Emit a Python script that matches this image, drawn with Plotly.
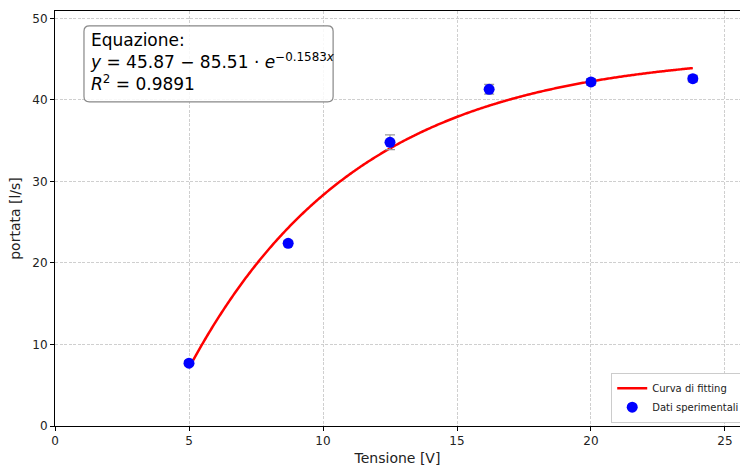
import numpy as np
import plotly.graph_objects as go

tensione = [5.0, 8.7, 12.5, 16.2, 20.0, 23.8]
portata = [7.7, 22.4, 34.8, 41.3, 42.2, 42.6]
errori = [0.3, 0.3, 0.9, 0.6, 0.4, 0.4]
a, b, c = 45.87, 85.51, 0.1583
r2 = 0.9891

x_fit = np.linspace(min(tensione), max(tensione), 400)
y_fit = a - b * np.exp(-c * x_fit)

fig = go.Figure()
fig.add_trace(go.Scatter(
    x=x_fit, y=y_fit, mode="lines", name="Curva di fitting",
    line=dict(color="#ff0000", width=2.5, simplify=False)))
fig.add_trace(go.Scatter(
    x=tensione, y=portata, mode="markers", name="Dati sperimentali",
    marker=dict(color="#0000ff", size=11),
    error_y=dict(type="data", array=errori, color="#999999", thickness=1.2, width=5)))

# rounded text box frame
x0, x1, y0, y1 = 0.0423, 0.406, 0.781, 0.964
rx, ry = 0.008, 0.013
path = (f"M {x0+rx},{y0} L {x1-rx},{y0} Q {x1},{y0} {x1},{y0+ry} "
        f"L {x1},{y1-ry} Q {x1},{y1} {x1-rx},{y1} L {x0+rx},{y1} "
        f"Q {x0},{y1} {x0},{y1-ry} L {x0},{y0+ry} Q {x0},{y0} {x0+rx},{y0} Z")
fig.add_shape(type="path", xref="paper", yref="paper", path=path,
              line=dict(color="#888888", width=1.2), fillcolor="rgba(255,255,255,0.85)",
              layer="above")

fig.add_annotation(
    xref="paper", yref="paper", x=0.048, y=0.958, xanchor="left", yanchor="top",
    align="left", showarrow=False,
    text=("Equazione:<br><i>y</i> = 45.87 − 85.51 · <i>e</i><sup>−0.1583<i>x</i></sup>"
          "<br><i>R</i><sup>2</sup> = %.4f" % r2),
    font=dict(family="DejaVu Sans", size=17, color="black"))

grid = dict(showgrid=True, gridcolor="#cfcfcf", griddash="3px,1.5px", gridwidth=1,
            showline=True, linecolor="black", linewidth=1,
            ticks="outside", ticklen=4, tickcolor="black", zeroline=False,
            tickfont=dict(size=12, color="#222222"))

fig.update_layout(
    width=740, height=466,
    margin=dict(l=55, r=0, t=11, b=40, autoexpand=False),
    plot_bgcolor="white", paper_bgcolor="white",
    font=dict(family="DejaVu Sans", color="#222222"),
    showlegend=True,
    legend=dict(x=0.812, y=0.008, xanchor="left", yanchor="bottom",
                bordercolor="#cccccc", borderwidth=1, bgcolor="white",
                font=dict(size=10), itemwidth=30, tracegroupgap=0),
    xaxis=dict(range=[0, 25.56], dtick=5, mirror=True,
               title=dict(text="Tensione [V]", font=dict(size=14), standoff=6), **grid),
    yaxis=dict(range=[0, 50.9], dtick=10, mirror=False,
               title=dict(text="portata [l/s]", font=dict(size=14), standoff=8), **grid),
)

fig.write_html("out.html")
